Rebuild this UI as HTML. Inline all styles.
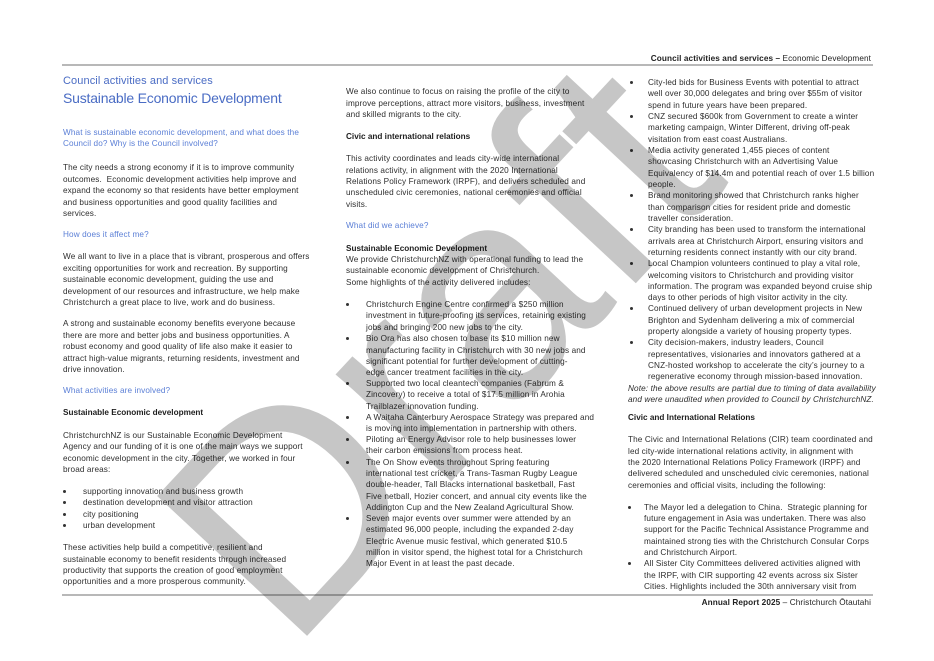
<!DOCTYPE html>
<html><head><meta charset="utf-8"><style>
html,body{margin:0;padding:0;background:#fff;}
#pg{position:relative;width:934px;height:661px;overflow:hidden;background:#fff;font-family:"Liberation Sans",sans-serif;color:#2e2e2e;}
.l{position:absolute;white-space:nowrap;font-size:8.2px;letter-spacing:0.12px;line-height:11px;}
.b{font-weight:bold;color:#1e1e1e;letter-spacing:0px;}
.bl{color:#5b7fd6;}
.i{font-style:italic;}
.d{position:absolute;width:3px;height:3px;background:#333;border-radius:50%;}
.rule{position:absolute;left:62px;width:811px;height:2px;background:#b8b8b8;}
#wm{position:absolute;left:436px;top:348px;transform:translate(-50%,-50%) rotate(-47deg);font-size:298px;line-height:298px;color:#c6c6c6;mix-blend-mode:multiply;white-space:nowrap;font-family:"Liberation Sans",sans-serif;}
</style></head><body><div id="pg">
<div class="rule" style="top:64px"></div>
<div class="rule" style="top:594px"></div>
<div class="l" style="left:560px;top:53px;width:311px;text-align:right;color:#222;letter-spacing:0.1px"><b>Council activities and services –</b> Economic Development</div>
<div class="l" style="left:560px;top:597px;width:311px;text-align:right;color:#222;letter-spacing:0.1px"><b>Annual Report 2025</b> – Christchurch Ōtautahi</div>

<!-- left column -->
<div class="l bl" style="left:63px;top:76px;font-size:11px;letter-spacing:0.1px;color:#4a6cc4">Council activities and services</div>
<div class="l bl" style="left:63px;top:90px;font-size:14px;letter-spacing:-0.2px;line-height:17px;color:#4a6cc4">Sustainable Economic Development</div>
<div class="l bl" style="left:63px;top:127px">What is sustainable economic development, and what does the</div>
<div class="l bl" style="left:63px;top:138px">Council do? Why is the Council involved?</div>
<div class="l" style="left:63px;top:162px">The city needs a strong economy if it is to improve community</div>
<div class="l" style="left:63px;top:174px">outcomes.&nbsp; Economic development activities help improve and</div>
<div class="l" style="left:63px;top:185px">expand the economy so that residents have better employment</div>
<div class="l" style="left:63px;top:197px">and business opportunities and good quality facilities and</div>
<div class="l" style="left:63px;top:208px">services.</div>
<div class="l bl" style="left:63px;top:229px">How does it affect me?</div>
<div class="l" style="left:63px;top:251px">We all want to live in a place that is vibrant, prosperous and offers</div>
<div class="l" style="left:63px;top:263px">exciting opportunities for work and recreation. By supporting</div>
<div class="l" style="left:63px;top:274px">sustainable economic development, guiding the use and</div>
<div class="l" style="left:63px;top:286px">development of our resources and infrastructure, we help make</div>
<div class="l" style="left:63px;top:297px">Christchurch a great place to live, work and do business.</div>
<div class="l" style="left:63px;top:318px">A strong and sustainable economy benefits everyone because</div>
<div class="l" style="left:63px;top:330px">there are more and better jobs and business opportunities. A</div>
<div class="l" style="left:63px;top:341px">robust economy and good quality of life also make it easier to</div>
<div class="l" style="left:63px;top:353px">attract high-value migrants, returning residents, investment and</div>
<div class="l" style="left:63px;top:364px">drive innovation.</div>
<div class="l bl" style="left:63px;top:385px">What activities are involved?</div>
<div class="l b" style="left:63px;top:407px">Sustainable Economic development</div>
<div class="l" style="left:63px;top:430px">ChristchurchNZ is our Sustainable Economic Development</div>
<div class="l" style="left:63px;top:441px">Agency and our funding of it is one of the main ways we support</div>
<div class="l" style="left:63px;top:453px">economic development in the city. Together, we worked in four</div>
<div class="l" style="left:63px;top:464px">broad areas:</div>
<div class="d" style="left:63px;top:490px"></div><div class="l" style="left:83px;top:486px">supporting innovation and business growth</div>
<div class="d" style="left:63px;top:501px"></div><div class="l" style="left:83px;top:497px">destination development and visitor attraction</div>
<div class="d" style="left:63px;top:513px"></div><div class="l" style="left:83px;top:509px">city positioning</div>
<div class="d" style="left:63px;top:524px"></div><div class="l" style="left:83px;top:520px">urban development</div>
<div class="l" style="left:63px;top:542px">These activities help build a competitive, resilient and</div>
<div class="l" style="left:63px;top:554px">sustainable economy to benefit residents through increased</div>
<div class="l" style="left:63px;top:565px">productivity that supports the creation of good employment</div>
<div class="l" style="left:63px;top:576px">opportunities and a more prosperous community.</div>

<!-- middle column -->
<div class="l" style="left:346px;top:86px">We also continue to focus on raising the profile of the city to</div>
<div class="l" style="left:346px;top:98px">improve perceptions, attract more visitors, business, investment</div>
<div class="l" style="left:346px;top:109px">and skilled migrants to the city.</div>
<div class="l b" style="left:346px;top:131px">Civic and international relations</div>
<div class="l" style="left:346px;top:153px">This activity coordinates and leads city-wide international</div>
<div class="l" style="left:346px;top:165px">relations activity, in alignment with the 2020 International</div>
<div class="l" style="left:346px;top:176px">Relations Policy Framework (IRPF), and delivers scheduled and</div>
<div class="l" style="left:346px;top:187px">unscheduled civic ceremonies, national ceremonies and official</div>
<div class="l" style="left:346px;top:199px">visits.</div>
<div class="l bl" style="left:346px;top:220px">What did we achieve?</div>
<div class="l b" style="left:346px;top:243px">Sustainable Economic Development</div>
<div class="l" style="left:346px;top:254px">We provide ChristchurchNZ with operational funding to lead the</div>
<div class="l" style="left:346px;top:265px">sustainable economic development of Christchurch.</div>
<div class="l" style="left:346px;top:277px">Some highlights of the activity delivered includes:</div>
<div class="d" style="left:346px;top:303px"></div>
<div class="l" style="left:366px;top:299px">Christchurch Engine Centre confirmed a $250 million</div>
<div class="l" style="left:366px;top:310px">investment in future-proofing its services, retaining existing</div>
<div class="l" style="left:366px;top:322px">jobs and bringing 200 new jobs to the city.</div>
<div class="d" style="left:346px;top:337px"></div>
<div class="l" style="left:366px;top:333px">Bio Ora has also chosen to base its $10 million new</div>
<div class="l" style="left:366px;top:345px">manufacturing facility in Christchurch with 30 new jobs and</div>
<div class="l" style="left:366px;top:356px">significant potential for further development of cutting-</div>
<div class="l" style="left:366px;top:367px">edge cancer treatment facilities in the city.</div>
<div class="d" style="left:346px;top:382px"></div>
<div class="l" style="left:366px;top:378px">Supported two local cleantech companies (Fabrum &amp;</div>
<div class="l" style="left:366px;top:389px">Zincovery) to receive a total of $17.5 million in Arohia</div>
<div class="l" style="left:366px;top:401px">Trailblazer innovation funding.</div>
<div class="d" style="left:346px;top:416px"></div>
<div class="l" style="left:366px;top:412px">A Waitaha Canterbury Aerospace Strategy was prepared and</div>
<div class="l" style="left:366px;top:423px">is moving into implementation in partnership with others.</div>
<div class="d" style="left:346px;top:438px"></div>
<div class="l" style="left:366px;top:434px">Piloting an Energy Advisor role to help businesses lower</div>
<div class="l" style="left:366px;top:445px">their carbon emissions from process heat.</div>
<div class="d" style="left:346px;top:461px"></div>
<div class="l" style="left:366px;top:457px">The On Show events throughout Spring featuring</div>
<div class="l" style="left:366px;top:468px">international test cricket, a Trans-Tasman Rugby League</div>
<div class="l" style="left:366px;top:479px">double-header, Tall Blacks international basketball, Fast</div>
<div class="l" style="left:366px;top:491px">Five netball, Hozier concert, and annual city events like the</div>
<div class="l" style="left:366px;top:502px">Addington Cup and the New Zealand Agricultural Show.</div>
<div class="d" style="left:346px;top:517px"></div>
<div class="l" style="left:366px;top:513px">Seven major events over summer were attended by an</div>
<div class="l" style="left:366px;top:524px">estimated 96,000 people, including the expanded 2-day</div>
<div class="l" style="left:366px;top:536px">Electric Avenue music festival, which generated $10.5</div>
<div class="l" style="left:366px;top:547px">million in visitor spend, the highest total for a Christchurch</div>
<div class="l" style="left:366px;top:558px">Major Event in at least the past decade.</div>

<!-- right column -->
<div class="d" style="left:630px;top:81px"></div>
<div class="l" style="left:648px;top:77px">City-led bids for Business Events with potential to attract</div>
<div class="l" style="left:648px;top:88px">well over 30,000 delegates and bring over $55m of visitor</div>
<div class="l" style="left:648px;top:100px">spend in future years have been prepared.</div>
<div class="d" style="left:630px;top:115px"></div>
<div class="l" style="left:648px;top:111px">CNZ secured $600k from Government to create a winter</div>
<div class="l" style="left:648px;top:122px">marketing campaign, Winter Different, driving off-peak</div>
<div class="l" style="left:648px;top:134px">visitation from east coast Australians.</div>
<div class="d" style="left:630px;top:149px"></div>
<div class="l" style="left:648px;top:145px">Media activity generated 1,455 pieces of content</div>
<div class="l" style="left:648px;top:156px">showcasing Christchurch with an Advertising Value</div>
<div class="l" style="left:648px;top:168px">Equivalency of $14.4m and potential reach of over 1.5 billion</div>
<div class="l" style="left:648px;top:179px">people.</div>
<div class="d" style="left:630px;top:194px"></div>
<div class="l" style="left:648px;top:190px">Brand monitoring showed that Christchurch ranks higher</div>
<div class="l" style="left:648px;top:202px">than comparison cities for resident pride and domestic</div>
<div class="l" style="left:648px;top:213px">traveller consideration.</div>
<div class="d" style="left:630px;top:228px"></div>
<div class="l" style="left:648px;top:224px">City branding has been used to transform the international</div>
<div class="l" style="left:648px;top:236px">arrivals area at Christchurch Airport, ensuring visitors and</div>
<div class="l" style="left:648px;top:247px">returning residents connect instantly with our city brand.</div>
<div class="d" style="left:630px;top:262px"></div>
<div class="l" style="left:648px;top:258px">Local Champion volunteers continued to play a vital role,</div>
<div class="l" style="left:648px;top:270px">welcoming visitors to Christchurch and providing visitor</div>
<div class="l" style="left:648px;top:281px">information. The program was expanded beyond cruise ship</div>
<div class="l" style="left:648px;top:292px">days to other periods of high visitor activity in the city.</div>
<div class="d" style="left:630px;top:307px"></div>
<div class="l" style="left:648px;top:303px">Continued delivery of urban development projects in New</div>
<div class="l" style="left:648px;top:315px">Brighton and Sydenham delivering a mix of commercial</div>
<div class="l" style="left:648px;top:326px">property alongside a variety of housing property types.</div>
<div class="d" style="left:630px;top:341px"></div>
<div class="l" style="left:648px;top:337px">City decision-makers, industry leaders, Council</div>
<div class="l" style="left:648px;top:349px">representatives, visionaries and innovators gathered at a</div>
<div class="l" style="left:648px;top:360px">CNZ-hosted workshop to accelerate the city’s journey to a</div>
<div class="l" style="left:648px;top:371px">regenerative economy through mission-based innovation.</div>
<div class="l i" style="left:628px;top:383px">Note: the above results are partial due to timing of data availability</div>
<div class="l i" style="left:628px;top:394px">and were unaudited when provided to Council by ChristchurchNZ.</div>
<div class="l b" style="left:628px;top:412px">Civic and International Relations</div>
<div class="l" style="left:628px;top:434px">The Civic and International Relations (CIR) team coordinated and</div>
<div class="l" style="left:628px;top:446px">led city-wide international relations activity, in alignment with</div>
<div class="l" style="left:628px;top:457px">the 2020 International Relations Policy Framework (IRPF) and</div>
<div class="l" style="left:628px;top:468px">delivered scheduled and unscheduled civic ceremonies, national</div>
<div class="l" style="left:628px;top:480px">ceremonies and official visits, including the following:</div>
<div class="d" style="left:628px;top:506px"></div>
<div class="l" style="left:644px;top:502px">The Mayor led a delegation to China.&nbsp; Strategic planning for</div>
<div class="l" style="left:644px;top:513px">future engagement in Asia was undertaken. There was also</div>
<div class="l" style="left:644px;top:524px">support for the Pacific Technical Assistance Programme and</div>
<div class="l" style="left:644px;top:536px">maintained strong ties with the Christchurch Consular Corps</div>
<div class="l" style="left:644px;top:547px">and Christchurch Airport.</div>
<div class="d" style="left:628px;top:562px"></div>
<div class="l" style="left:644px;top:558px">All Sister City Committees delivered activities aligned with</div>
<div class="l" style="left:644px;top:570px">the IRPF, with CIR supporting 42 events across six Sister</div>
<div class="l" style="left:644px;top:581px">Cities. Highlights included the 30th anniversary visit from</div>

<div id="wm">Draft</div>
</div></body></html>
